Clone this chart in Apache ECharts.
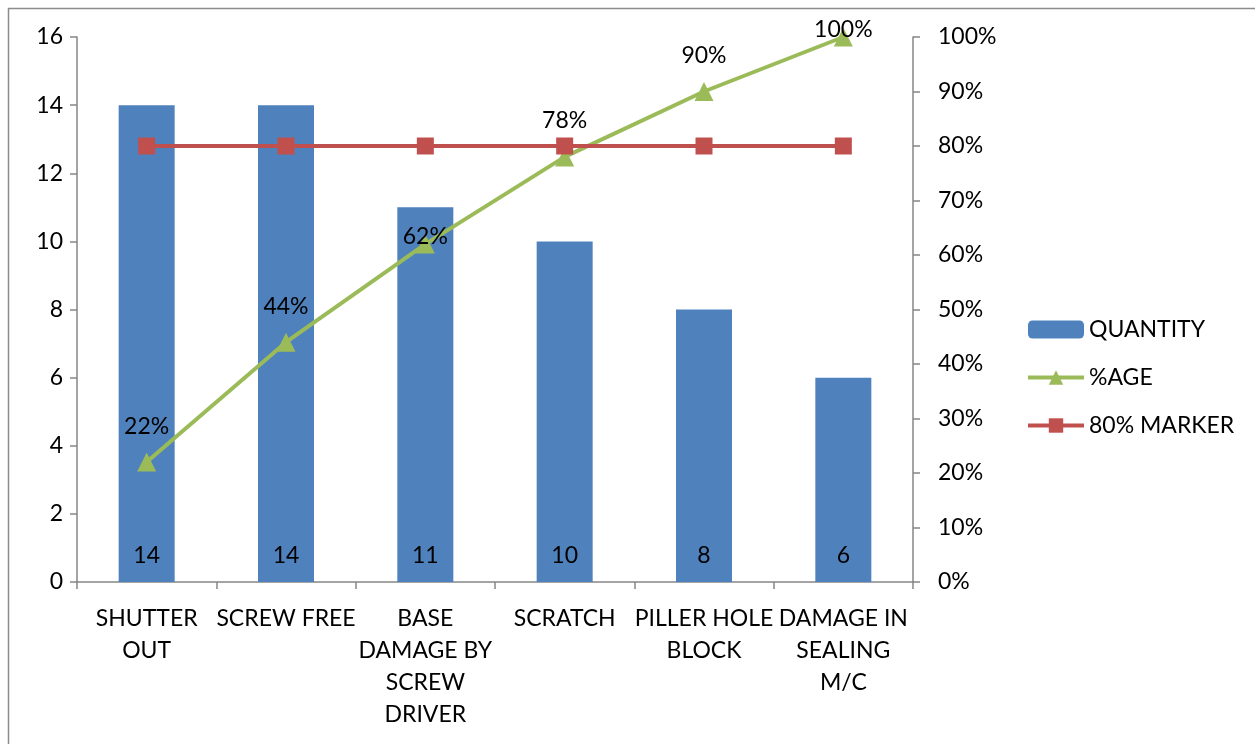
<!DOCTYPE html>
<html>
<head>
<meta charset="utf-8">
<script src="https://cdn.jsdelivr.net/npm/echarts@6/dist/echarts.min.js"></script>
<style>
  html, body { margin: 0; padding: 0; background: #fff; }
  #chart { width: 1255px; height: 744px; }
</style>
</head>
<body>
<div id="chart"></div>
<script>
// Defect categories (line breaks as shown under the axis)
const categories = [
  'SHUTTER\nOUT',
  'SCREW FREE',
  'BASE\nDAMAGE BY\nSCREW\nDRIVER',
  'SCRATCH',
  'PILLER HOLE\nBLOCK',
  'DAMAGE IN\nSEALING\nM/C'
];
const quantity = [14, 14, 11, 10, 8, 6];
const cumulativePct = [22, 44, 62, 78, 90, 100];
const markerPct = [80, 80, 80, 80, 80, 80];

const leftTicks = { min: 0, max: 16, interval: 2 };
const rightTicks = { min: 0, max: 100, interval: 10 };

const FONT = 'Lato';
const FS = 23;
const AXIS = '#868686';

// label distance above each %AGE point (some sit closer to the marker)
const pctLabelDistance = [15, 15, -13, 15, 15, -14];

const chart = echarts.init(document.getElementById('chart'));
chart.setOption({
  animation: false,
  textStyle: { fontFamily: FONT, color: '#000' },
  graphic: [{
    type: 'rect',
    shape: { x: 8.5, y: 8.5, width: 1300, height: 800 },
    style: { fill: 'none', stroke: '#8c8c8c', lineWidth: 1.5 },
    silent: true
  }],
  grid: { left: 77, right: 342, top: 37, bottom: 162 },
  legend: {
    orient: 'vertical',
    left: 1026,
    top: 318,
    padding: 0,
    itemWidth: 56,
    itemHeight: 18,
    itemGap: 25,
    lineStyle: { width: 4 },
    textStyle: { fontFamily: FONT, fontSize: FS, color: '#000' },
    data: ['QUANTITY', '%AGE', '80% MARKER']
  },
  xAxis: {
    type: 'category',
    data: categories,
    boundaryGap: true,
    axisLine: { lineStyle: { color: AXIS, width: 1.5 } },
    axisTick: { show: true, length: 7, lineStyle: { color: AXIS, width: 1.5 } },
    axisLabel: {
      interval: 0,
      margin: 21,
      fontFamily: FONT,
      fontSize: FS,
      lineHeight: 32,
      color: '#000',
      align: 'center'
    }
  },
  yAxis: [{
    type: 'value',
    min: leftTicks.min, max: leftTicks.max, interval: leftTicks.interval,
    splitLine: { show: false },
    axisLine: { show: true, lineStyle: { color: AXIS, width: 1.5 } },
    axisTick: { show: true, length: 7, lineStyle: { color: AXIS, width: 1.5 } },
    axisLabel: { margin: 14, fontFamily: FONT, fontSize: FS, color: '#000' }
  }, {
    type: 'value',
    position: 'right',
    min: rightTicks.min, max: rightTicks.max, interval: rightTicks.interval,
    splitLine: { show: false },
    axisLine: { show: true, lineStyle: { color: AXIS, width: 1.5 } },
    axisTick: { show: true, length: 7, lineStyle: { color: AXIS, width: 1.5 } },
    axisLabel: { margin: 25, fontFamily: FONT, fontSize: FS, color: '#000', formatter: '{value}%' }
  }],
  series: [{
    name: 'QUANTITY',
    type: 'bar',
    data: quantity,
    barWidth: 56,
    itemStyle: { color: '#4F81BD' },
    label: {
      show: true,
      position: 'insideBottom',
      distance: 15,
      fontFamily: FONT,
      fontSize: FS,
      color: '#000'
    }
  }, {
    name: '%AGE',
    type: 'line',
    yAxisIndex: 1,
    data: cumulativePct.map((v, i) => ({
      value: v,
      label: { distance: pctLabelDistance[i] }
    })),
    z: 3,
    symbol: 'triangle',
    symbolSize: 19,
    lineStyle: { color: '#9BBB59', width: 4 },
    itemStyle: { color: '#9BBB59' },
    label: {
      show: true,
      position: 'top',
      formatter: '{c}%',
      fontFamily: FONT,
      fontSize: FS,
      color: '#000'
    }
  }, {
    name: '80% MARKER',
    type: 'line',
    yAxisIndex: 1,
    data: markerPct,
    z: 4,
    symbol: 'rect',
    symbolSize: 17,
    lineStyle: { color: '#C0504D', width: 4 },
    itemStyle: { color: '#C0504D' }
  }]
});
</script>
</body>
</html>
